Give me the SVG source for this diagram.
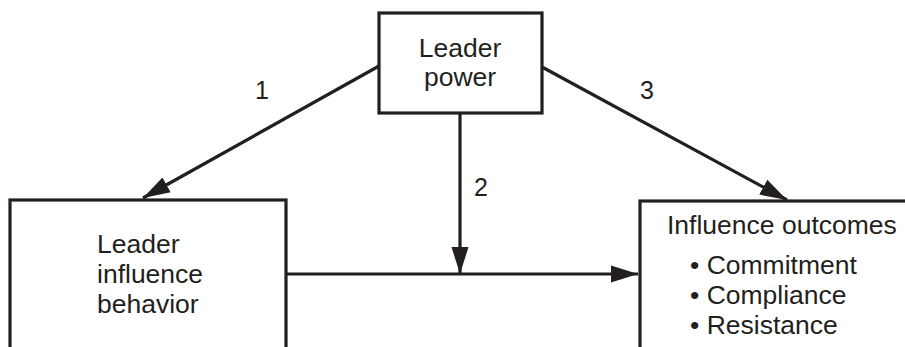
<svg xmlns="http://www.w3.org/2000/svg" width="905" height="347" viewBox="0 0 905 347">
<style>
.box{fill:#fff;stroke:#231f20;stroke-width:3.2}
.t{font-family:"Liberation Sans",Arial,sans-serif;font-size:26.5px;fill:#231f20}
.n{font-family:"Liberation Sans",Arial,sans-serif;font-size:25px;fill:#231f20}
.c{stroke:#231f20;stroke-width:3.2;fill:none}
</style>
<defs>
<marker id="ah" markerUnits="userSpaceOnUse" markerWidth="28" markerHeight="18" refX="27" refY="9" orient="auto">
<path d="M0,0.5 L27,9 L0,17.5 Z" fill="#231f20"/>
</marker>
</defs>
<rect width="905" height="347" fill="#fff"/>
<g id="power">
<rect class="box" x="379" y="13" width="163" height="100"/>
<text class="t" x="460" y="57" text-anchor="middle">Leader</text>
<text class="t" x="460" y="86" text-anchor="middle">power</text>
</g>
<g id="behavior">
<rect class="box" x="10" y="200" width="276" height="170"/>
<text class="t" x="97" y="253">Leader</text>
<text class="t" x="97" y="283">influence</text>
<text class="t" x="97" y="313">behavior</text>
</g>
<g id="outcomes">
<rect class="box" x="640" y="201" width="290" height="170"/>
<text class="t" x="667" y="234">Influence outcomes</text>
<text class="t" x="690" y="274">• Commitment</text>
<text class="t" x="690" y="304">• Compliance</text>
<text class="t" x="690" y="334">• Resistance</text>
</g>
<g id="connectors">
<line class="c" x1="379" y1="66" x2="143" y2="198" marker-end="url(#ah)"/>
<line class="c" x1="542" y1="67" x2="787" y2="200" marker-end="url(#ah)"/>
<line class="c" x1="460" y1="113" x2="460" y2="274" marker-end="url(#ah)"/>
<line class="c" x1="286" y1="274" x2="638" y2="274" marker-end="url(#ah)"/>
<text class="n" x="262" y="99" text-anchor="middle">1</text>
<text class="n" x="481" y="196" text-anchor="middle">2</text>
<text class="n" x="647" y="99" text-anchor="middle">3</text>
</g>
</svg>
